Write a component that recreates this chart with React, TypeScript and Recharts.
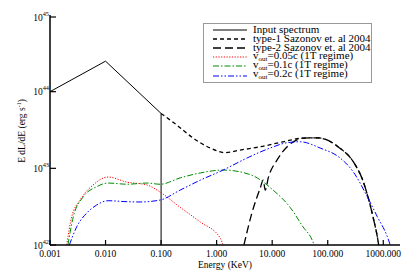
import { LineChart, Line, XAxis, YAxis, Legend } from 'recharts';

// energies (KeV) and luminosities (erg/s)
const inputE = [0.001, 0.01, 0.1, 0.1];
const inputL = [1e44, 2.5e44, 5.2e43, 1e42];

const type1E = [0.1, 0.192, 0.378, 0.764, 1.42, 2.65, 6.1, 15.8, 36, 65, 168, 288, 436, 537, 660, 815, 880];
const type1L = [5.2e43, 3.67e43, 2.48e43, 1.84e43, 1.6e43, 1.73e43, 1.91e43, 2.22e43, 2.48e43, 2.5e43, 1.82e43, 1.22e43, 6.7e42, 4.1e42, 2.25e42, 1.06e42, 0.7e42];

const type2E = [3.1, 4.3, 6.1, 6.9, 7.5, 8.5, 12.2, 18.4, 27.9, 36, 65, 168, 288, 436, 537, 660, 815, 880];
const type2L = [1e42, 2.59e42, 5.53e42, 7e42, 5.2e42, 7.5e42, 1.28e43, 1.9e43, 2.35e43, 2.48e43, 2.5e43, 1.82e43, 1.22e43, 6.7e42, 4.1e42, 2.25e42, 1.06e42, 0.7e42];

const v005E = [0.002, 0.00246, 0.00348, 0.00596, 0.0111, 0.0244, 0.056, 0.096, 0.22, 0.505, 1.16, 1.31];
const v005L = [1e42, 2.34e42, 3.86e42, 6.06e42, 7.7e42, 6.6e42, 6.06e42, 4.9e42, 3.1e42, 2.0e42, 1.23e42, 1e42];

const v01E = [0.0021, 0.00263, 0.00398, 0.0069, 0.0111, 0.0244, 0.056, 0.096, 0.22, 0.505, 1.31, 2.65, 5.37, 10.4, 21, 36, 52.5, 57];
const v01L = [1e42, 2.34e42, 4.26e42, 5.75e42, 6.43e42, 6.2e42, 6.43e42, 6.2e42, 7.5e42, 8.7e42, 9.5e42, 9.0e42, 7.5e42, 5.2e42, 3.1e42, 1.72e42, 1.16e42, 1e42];

const v02E = [0.00223, 0.00303, 0.00458, 0.0069, 0.0111, 0.0244, 0.0419, 0.096, 0.22, 0.505, 1.31, 3.5, 9.2, 18.6, 32, 73, 168, 288, 515, 780, 1175, 1336];
const v02L = [1e42, 1.73e42, 2.61e42, 3.32e42, 3.78e42, 3.67e42, 3.64e42, 3.86e42, 5.2e42, 7.0e42, 9.5e42, 1.36e43, 1.84e43, 2.16e43, 2.22e43, 1.84e43, 1.36e43, 9.0e42, 4.27e42, 2.34e42, 1.3e42, 1e42];

const xTicks = [0.001, 0.01, 0.1, 1, 10, 100, 1000];
const yTicks = [1e42, 1e43, 1e44, 1e45];

const toPoints = (e: number[], l: number[]) => e.map((x, i) => ({ x, y: l[i] }));

const FONT = '"Liberation Serif", "Times New Roman", serif';

const series = [
  { key: 'input', label: 'Input spectrum', data: toPoints(inputE, inputL), color: '#000', dash: undefined, width: 1, curve: 'linear' },
  { key: 'type1', label: 'type-1 Sazonov et. al 2004', data: toPoints(type1E, type1L), color: '#000', dash: '4 3', width: 1.3, curve: 'monotone' },
  { key: 'type2', label: 'type-2 Sazonov et. al 2004', data: toPoints(type2E, type2L), color: '#000', dash: '8 4', width: 1.3, curve: 'monotone' },
  { key: 'v005', label: '=0.05c (1T regime)', sub: true, data: toPoints(v005E, v005L), color: '#ff0000', dash: '1.2 1.5', width: 1, curve: 'monotone' },
  { key: 'v01', label: '=0.1c (1T regime)', sub: true, data: toPoints(v01E, v01L), color: '#008b00', dash: '6 2 1.5 2', width: 1, curve: 'monotone' },
  { key: 'v02', label: '=0.2c (1T regime)', sub: true, data: toPoints(v02E, v02L), color: '#0000ff', dash: '6 2 1.5 2 1.5 2', width: 1, curve: 'monotone' },
];

const BottomTick = ({ x, y, payload }: any) => (
  <g>
    <line x1={x} x2={x} y1={y} y2={y - 5} stroke="#000" strokeWidth={1.2} />
    <text x={x} y={y + 12} textAnchor="middle" fontFamily={FONT} fontSize={9.5} fill="#000">
      {Number(payload.value).toFixed(3)}
    </text>
  </g>
);

const TopTick = ({ x, y }: any) => (
  <line x1={x} x2={x} y1={y} y2={y + 5} stroke="#000" strokeWidth={1.2} />
);

const LeftTick = ({ x, y, payload }: any) => (
  <g>
    <line x1={x} x2={x + 6} y1={y} y2={y} stroke="#000" strokeWidth={1.2} />
    <text x={x - 1} y={y + 3.5} textAnchor="end" fontFamily={FONT} fontSize={9.5} fill="#000">
      10
      <tspan dy={-5} fontSize={6.3}>{Math.round(Math.log10(payload.value))}</tspan>
    </text>
  </g>
);

const RightTick = ({ x, y }: any) => (
  <line x1={x} x2={x - 6} y1={y} y2={y} stroke="#000" strokeWidth={1.2} />
);

const LegendBox = () => (
  <div
    style={{
      width: 169,
      height: 60,
      boxSizing: 'border-box',
      border: '1px solid #999',
      background: '#fff',
      paddingTop: 1,
      fontFamily: FONT,
      fontSize: 11,
      color: '#000',
    }}
  >
    {series.map((s) => (
      <div key={s.key} style={{ height: 9.2, display: 'flex', alignItems: 'center', whiteSpace: 'nowrap' }}>
        <svg width={49} height={8} style={{ flex: 'none' }}>
          <line x1={9} x2={43} y1={4} y2={4} stroke={s.color} strokeWidth={s.width} strokeDasharray={s.dash} />
        </svg>
        <span style={{ lineHeight: '9px' }}>
          {s.sub ? (
            <>
              v<span style={{ fontSize: 7, verticalAlign: -2 }}>out</span>
              {s.label}
            </>
          ) : (
            s.label
          )}
        </span>
      </div>
    ))}
  </div>
);

export default function App() {
  return (
    <LineChart width={407} height={269} margin={{ top: 7, right: 15, left: 0, bottom: 0 }}>
      <XAxis
        xAxisId="main"
        dataKey="x"
        type="number"
        scale="log"
        domain={[0.001, 2000]}
        ticks={xTicks}
        allowDataOverflow
        height={32}
        tickSize={0}
        tickMargin={0}
        tickLine={false}
        axisLine={{ stroke: '#000', strokeWidth: 1.5 }}
        tick={(p: any) => <BottomTick {...p} />}
        label={{
          content: () => (
            <text x={217} y={260} textAnchor="middle" fontFamily={FONT} fontSize={9.5} fill="#000">
              Energy (KeV)
            </text>
          ),
        }}
      />
      <XAxis
        xAxisId="top"
        orientation="top"
        dataKey="x"
        type="number"
        scale="log"
        domain={[0.001, 2000]}
        ticks={xTicks}
        allowDataOverflow
        height={0}
        tickSize={0}
        tickMargin={0}
        tickLine={false}
        axisLine={{ stroke: '#000', strokeWidth: 1.5 }}
        tick={(p: any) => <TopTick {...p} />}
      />
      <YAxis
        yAxisId="main"
        dataKey="y"
        type="number"
        scale="log"
        domain={[1e42, 1e45]}
        ticks={yTicks}
        allowDataOverflow
        width={42}
        tickSize={0}
        tickMargin={0}
        tickLine={false}
        axisLine={{ stroke: '#000', strokeWidth: 1.5 }}
        tick={(p: any) => <LeftTick {...p} />}
        label={{
          content: () => (
            <text
              x={14}
              y={123}
              transform="rotate(-90 14 123)"
              textAnchor="middle"
              dominantBaseline="central"
              fontFamily={FONT}
              fontSize={9.5}
              fill="#000"
            >
              E dL/dE (erg s
              <tspan dy={-3} fontSize={6}>-1</tspan>
              <tspan dy={3}>)</tspan>
            </text>
          ),
        }}
      />
      <YAxis
        yAxisId="right"
        orientation="right"
        dataKey="y"
        type="number"
        scale="log"
        domain={[1e42, 1e45]}
        ticks={yTicks}
        allowDataOverflow
        width={0}
        tickSize={0}
        tickMargin={0}
        tickLine={false}
        axisLine={{ stroke: '#000', strokeWidth: 1.5 }}
        tick={(p: any) => <RightTick {...p} />}
      />
      <Legend
        layout="vertical"
        align="center"
        verticalAlign="middle"
        wrapperStyle={{ left: 195, top: 15, width: 169 }}
        content={() => <LegendBox />}
      />
      {series.map((s) => (
        <Line
          key={s.key}
          xAxisId="main"
          yAxisId="main"
          data={s.data}
          dataKey="y"
          type={s.curve as any}
          stroke={s.color}
          strokeWidth={s.width}
          strokeDasharray={s.dash}
          dot={false}
          activeDot={false}
          legendType="none"
          isAnimationActive={false}
        />
      ))}
    </LineChart>
  );
}
